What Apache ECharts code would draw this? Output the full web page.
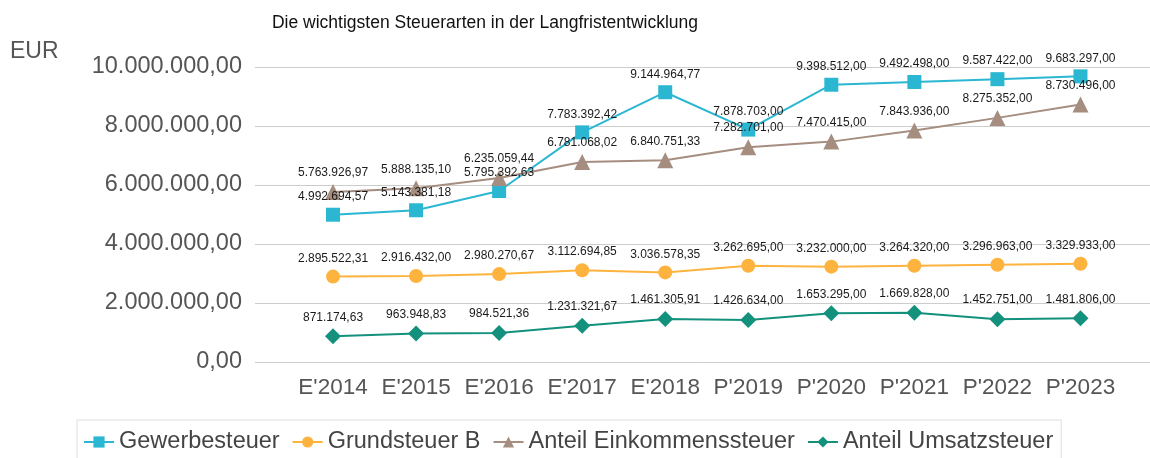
<!DOCTYPE html>
<html><head><meta charset="utf-8">
<script src="https://cdn.jsdelivr.net/npm/echarts@6/dist/echarts.min.js"></script>
<style>html,body{margin:0;padding:0;background:#fff}#c{width:1150px;height:458px}</style>
</head><body><div id="c"></div>
<script>
const categories = ["E'2014","E'2015","E'2016","E'2017","E'2018","P'2019","P'2020","P'2021","P'2022","P'2023"];
const gewerbesteuer = [4992694.57, 5143381.18, 5795392.63, 7783392.42, 9144964.77, 7878703.00, 9398512.00, 9492498.00, 9587422.00, 9683297.00];
const grundsteuerB = [2895522.31, 2916432.00, 2980270.67, 3112694.85, 3036578.35, 3262695.00, 3232000.00, 3264320.00, 3296963.00, 3329933.00];
const einkommensteuer = [5763926.97, 5888135.10, 6235059.44, 6781068.02, 6840751.33, 7282701.00, 7470415.00, 7843936.00, 8275352.00, 8730496.00];
const umsatzsteuer = [871174.63, 963948.83, 984521.36, 1231321.67, 1461305.91, 1426634.00, 1653295.00, 1669828.00, 1452751.00, 1481806.00];
const yTicks = { min: 0, max: 10000000, interval: 2000000 };

function fmtDE(v) {
  const neg = v < 0; v = Math.abs(v);
  const cents = Math.round(v * 100);
  let intPart = Math.floor(cents / 100).toString();
  const dec = (cents % 100).toString().padStart(2, '0');
  intPart = intPart.replace(/\B(?=(\d{3})+(?!\d))/g, '.');
  return (neg ? '-' : '') + intPart + ',' + dec;
}

const FONT = 'Liberation Sans, Arial, sans-serif';
const chart = echarts.init(document.getElementById('c'), null, { renderer: 'canvas' });

function mkSeries(name, data, color, symbol, size) {
  return {
    name, type: 'line', data, xAxisIndex: 1, yAxisIndex: 1,
    symbol, symbolSize: size,
    itemStyle: { color },
    lineStyle: { color, width: 2 },
    label: {
      show: true, position: 'top', distance: 5,
      formatter: p => fmtDE(p.value),
      fontFamily: FONT, fontSize: 12, color: '#1a1a1a'
    },
    emphasis: { disabled: true },
    animation: false
  };
}

chart.setOption({
  backgroundColor: '#fff',
  animation: false,
  title: {
    text: 'Die wichtigsten Steuerarten in der Langfristentwicklung',
    left: 480, top: 9, textAlign: 'center',
    textStyle: { fontFamily: FONT, fontSize: 17.5, fontWeight: 'normal', color: '#111' }
  },
  graphic: [{
    type: 'text', left: 10, top: 40,
    style: { text: 'EUR', font: '23px ' + FONT, fill: '#555' }
  }],
  legend: {
    left: 77, top: 420,
    itemGap: 12, itemWidth: 30, itemHeight: 14,
    padding: [10, 8, 10, 6],
    borderColor: '#ddd', borderWidth: 1,
    textStyle: { fontFamily: FONT, fontSize: 23.5, color: '#444' },
    data: ['Gewerbesteuer', 'Grundsteuer B', 'Anteil Einkommenssteuer', 'Anteil Umsatzsteuer']
  },
  grid: [
    { left: 255, right: 0, top: 67, bottom: 96 },
    { left: 291.5, right: 28, top: 67, bottom: 96 }
  ],
  xAxis: [
    { type: 'category', gridIndex: 0, data: categories, show: false },
    {
      type: 'category', gridIndex: 1, data: categories, boundaryGap: true,
      axisLine: { show: false }, axisTick: { show: false },
      axisLabel: { interval: 0, fontFamily: FONT, fontSize: 22.5, color: '#555', margin: 14 }
    }
  ],
  yAxis: [
    {
      type: 'value', gridIndex: 0, min: yTicks.min, max: yTicks.max, interval: yTicks.interval,
      axisLine: { show: false }, axisTick: { show: false },
      splitLine: { lineStyle: { color: '#ccc', width: 1 } },
      axisLabel: { fontFamily: FONT, fontSize: 23.5, color: '#555', margin: 13, formatter: v => fmtDE(v) }
    },
    {
      type: 'value', gridIndex: 1, min: yTicks.min, max: yTicks.max, interval: yTicks.interval,
      show: false, splitLine: { show: false }
    }
  ],
  series: [
    mkSeries('Gewerbesteuer', gewerbesteuer, '#2BB7D1', 'rect', 14),
    mkSeries('Grundsteuer B', grundsteuerB, '#FDB33E', 'circle', 14),
    mkSeries('Anteil Einkommenssteuer', einkommensteuer, '#A58E80', 'triangle', 16),
    mkSeries('Anteil Umsatzsteuer', umsatzsteuer, '#14917D', 'diamond', 16)
  ]
});
</script></body></html>
